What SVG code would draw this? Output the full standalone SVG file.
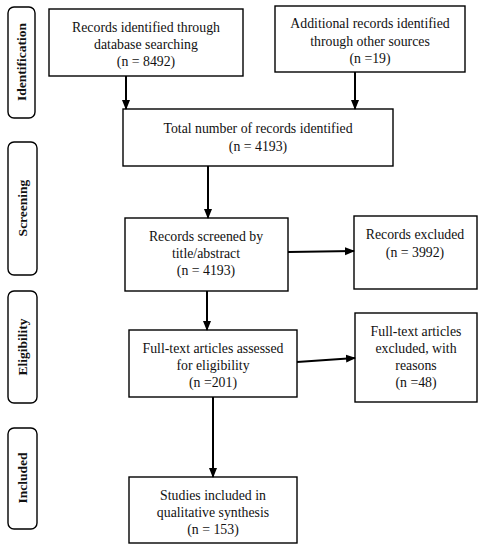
<svg xmlns="http://www.w3.org/2000/svg" width="484" height="550" viewBox="0 0 484 550">
<defs>
<marker id="ah" markerWidth="10" markerHeight="10" refX="9" refY="5" orient="auto" markerUnits="userSpaceOnUse">
<path d="M0,1 L10,5 L0,9 Z" fill="#000"/>
</marker>
<style>
.box{fill:#fff;stroke:#000;stroke-width:1.4}
.side{fill:#fff;stroke:#000;stroke-width:1.4}
.t{font-family:"Liberation Serif","DejaVu Serif",serif;font-size:13.8px;fill:#111;text-anchor:middle}
.s{font-family:"Liberation Serif","DejaVu Serif",serif;font-size:13.5px;font-weight:bold;fill:#111;text-anchor:middle}
.c{stroke:#000;stroke-width:2;fill:none}
</style>
</defs>
<rect width="484" height="550" fill="#fff"/>
<g id="side-identification"><rect class="side" x="8" y="7" width="27" height="111" rx="6"/><text class="s" transform="translate(26,62) rotate(-90)">Identification</text></g>
<g id="side-screening"><rect class="side" x="8" y="142" width="29" height="133" rx="6"/><text class="s" transform="translate(27,208) rotate(-90)">Screening</text></g>
<g id="side-eligibility"><rect class="side" x="8" y="291" width="29" height="112" rx="6"/><text class="s" transform="translate(27,347) rotate(-90)">Eligibility</text></g>
<g id="side-included"><rect class="side" x="8" y="428" width="29" height="101" rx="6"/><text class="s" transform="translate(27,478) rotate(-90)">Included</text></g>
<g id="n-db"><rect class="box" x="49" y="9" width="194" height="67"/><text class="t" x="146" y="32">Records identified through</text><text class="t" x="146" y="49">database searching</text><text class="t" x="146" y="66">(n = 8492)</text></g>
<g id="n-other"><rect class="box" x="275" y="6" width="190" height="66"/><text class="t" x="370" y="28">Additional records identified</text><text class="t" x="370" y="46">through other sources</text><text class="t" x="370" y="63">(n =19)</text></g>
<g id="n-total"><rect class="box" x="123" y="109" width="270" height="57"/><text class="t" x="258" y="133">Total number of records identified</text><text class="t" x="258" y="151">(n = 4193)</text></g>
<g id="n-screened"><rect class="box" x="125" y="218" width="163" height="73"/><text class="t" x="206" y="241">Records screened by</text><text class="t" x="206" y="258">title/abstract</text><text class="t" x="206" y="275">(n = 4193)</text></g>
<g id="n-excluded"><rect class="box" x="354" y="216" width="123" height="73"/><text class="t" x="415" y="239">Records excluded</text><text class="t" x="415" y="257">(n = 3992)</text></g>
<g id="n-fulltext"><rect class="box" x="129" y="330" width="168" height="67"/><text class="t" x="213" y="353">Full-text articles assessed</text><text class="t" x="213" y="370">for eligibility</text><text class="t" x="213" y="387">(n =201)</text></g>
<g id="n-ftexcluded"><rect class="box" x="355" y="313" width="122" height="89"/><text class="t" x="416" y="336">Full-text articles</text><text class="t" x="416" y="353">excluded, with</text><text class="t" x="416" y="370">reasons</text><text class="t" x="416" y="387">(n =48)</text></g>
<g id="n-included"><rect class="box" x="129" y="477" width="168" height="66"/><text class="t" x="213" y="500">Studies included in</text><text class="t" x="213" y="517">qualitative synthesis</text><text class="t" x="213" y="534">(n = 153)</text></g>
<g id="connectors">
<line class="c" x1="126" y1="76" x2="126" y2="109" marker-end="url(#ah)"/>
<line class="c" x1="355" y1="72" x2="355" y2="109" marker-end="url(#ah)"/>
<line class="c" x1="208" y1="166" x2="208" y2="218" marker-end="url(#ah)"/>
<line class="c" x1="288" y1="252" x2="354" y2="251" marker-end="url(#ah)"/>
<line class="c" x1="207" y1="291" x2="207" y2="330" marker-end="url(#ah)"/>
<line class="c" x1="297" y1="362" x2="355" y2="358" marker-end="url(#ah)"/>
<line class="c" x1="213" y1="397" x2="213" y2="477" marker-end="url(#ah)"/>
</g>
</svg>
